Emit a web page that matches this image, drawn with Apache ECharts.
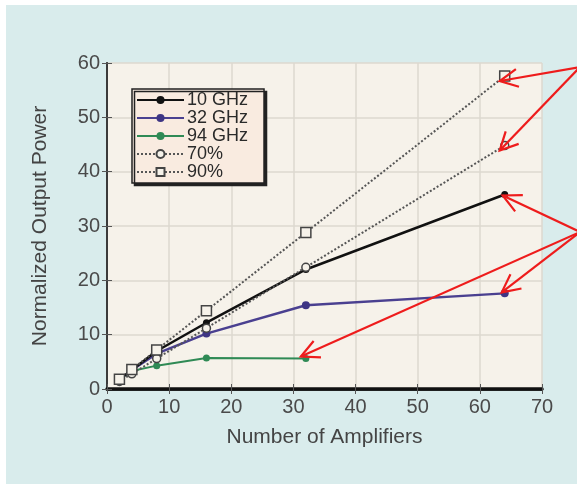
<!DOCTYPE html>
<html><head><meta charset="utf-8">
<script src="https://cdn.jsdelivr.net/npm/echarts@6/dist/echarts.min.js"></script>
<style>html,body{margin:0;padding:0;background:#fff}#c{width:577px;height:488px}</style>
</head><body><div id="c"></div>
<script>
const amps = [2, 4, 8, 16, 32, 64];
const ghz10 = [1.8, 3.5, 7.0, 12.2, 22.0, 35.8];
const ghz32 = [1.8, 3.5, 6.5, 10.2, 15.4, 17.6];
const ghz94 = [1.8, 3.3, 4.3, 5.7, 5.6];
const eff70 = [1.4, 2.8, 5.6, 11.2, 22.4, 44.8];
const eff90 = [1.8, 3.6, 7.2, 14.4, 28.8, 57.6];
const xTicks = [0, 10, 20, 30, 40, 50, 60, 70];
const yTicks = [0, 10, 20, 30, 40, 50, 60];
const names = ['10 GHz', '32 GHz', '94 GHz', '70%', '90%'];

const pairs = (ys) => ys.map((y, i) => [amps[i], y]);
const font = 'Liberation Sans, Arial, sans-serif';
const chart = echarts.init(document.getElementById('c'));
const axisCommon = {
  type: 'value', min: 0, interval: 10,
  axisTick: { inside: true, length: 5, lineStyle: { color: '#555', width: 1 } },
  splitLine: { show: false }
};
chart.setOption({
  backgroundColor: '#ffffff',
  animation: false,
  grid: { left: 107, right: 35, top: 63, bottom: 99, show: true, backgroundColor: '#f6f2ea', borderWidth: 0 },
  legend: {
    orient: 'vertical', left: 132, top: 89, data: names,
    itemWidth: 47, itemHeight: 10, itemGap: 0,
    padding: [2, 16, 2, 4],
    backgroundColor: '#f9ebe0', borderColor: '#222', borderWidth: 1.5,
    shadowColor: '#222', shadowOffsetX: 2.5, shadowOffsetY: 2.5, shadowBlur: 0,
    textStyle: { fontFamily: font, fontSize: 18, lineHeight: 17, height: 17, color: '#2a2a2a', padding: [0, 0, 0, -2] }
  },
  xAxis: [
    Object.assign({}, axisCommon, {
      position: 'bottom', max: 70,
      axisLine: { lineStyle: { color: '#222', width: 2.5 } },
      axisLabel: { fontFamily: font, fontSize: 20, color: '#4a4a4a', margin: 8, formatter: v => xTicks.includes(v) ? String(v) : '' },
      splitLine: { show: true, lineStyle: { color: '#dcd8cf', width: 1.5 } },
      name: 'Number of Amplifiers', nameLocation: 'middle', nameGap: 38,
      nameTextStyle: { fontFamily: font, fontSize: 21, color: '#444' }
    }),
    Object.assign({}, axisCommon, {
      position: 'top', max: 70,
      axisLine: { lineStyle: { color: '#111', width: 3.5 } },
      axisLabel: { show: false }
    })
  ],
  yAxis: [
    Object.assign({}, axisCommon, {
      position: 'left', max: 60,
      axisLine: { show: true, lineStyle: { color: '#222', width: 2 } },
      axisLabel: { fontFamily: font, fontSize: 20, color: '#4a4a4a', margin: 7, formatter: v => yTicks.includes(v) ? String(v) : '' },
      splitLine: { show: true, lineStyle: { color: '#dcd8cf', width: 1.5 } },
      name: 'Normalized Output Power', nameLocation: 'middle', nameGap: 56,
      nameTextStyle: { fontFamily: font, fontSize: 21, color: '#444' }
    }),
    Object.assign({}, axisCommon, {
      position: 'right', max: 60,
      axisLine: { show: true, lineStyle: { color: '#444', width: 1.5 } },
      axisLabel: { show: false }
    })
  ],
  series: [
    { name: names[0], type: 'line', data: pairs(ghz10), color: '#111', z: 5,
      lineStyle: { width: 2.5, color: '#111' }, symbol: 'circle', symbolSize: 7,
      itemStyle: { color: '#111' } },
    { name: names[1], type: 'line', data: pairs(ghz32), color: '#3e3584', z: 4,
      lineStyle: { width: 2.5, color: '#4a4090' }, symbol: 'circle', symbolSize: 8,
      itemStyle: { color: '#3e3584' } },
    { name: names[2], type: 'line', data: pairs(ghz94), color: '#2f8a55', z: 3,
      lineStyle: { width: 2, color: '#2f8a55' }, symbol: 'circle', symbolSize: 7,
      itemStyle: { color: '#2f8a55' } },
    { name: names[3], type: 'line', data: pairs(eff70), color: '#444', z: 6,
      lineStyle: { width: 2, color: '#555', type: [2, 2] }, symbol: 'circle', symbolSize: 8,
      itemStyle: { color: '#f6f2ea', borderColor: '#444', borderWidth: 1.5 } },
    { name: names[4], type: 'line', data: pairs(eff90), color: '#444', z: 6,
      lineStyle: { width: 2, color: '#555', type: [2, 2] }, symbol: 'rect', symbolSize: 10,
      itemStyle: { color: '#f6f2ea', borderColor: '#444', borderWidth: 1.5 } }
  ]
});

// red annotation arrows pointing at series ends
function arrow(tail, tip) {
  const dx = tip[0] - tail[0], dy = tip[1] - tail[1];
  const len = Math.hypot(dx, dy), ux = dx / len, uy = dy / len;
  const hl = 18, hw = 9;
  const bx = tip[0] - ux * hl, by = tip[1] - uy * hl;
  return [
    { type: 'line', z: 100, shape: { x1: tail[0], y1: tail[1], x2: tip[0], y2: tip[1] }, style: { stroke: '#ee1c1c', lineWidth: 2.2 } },
    { type: 'polyline', z: 100, shape: { points: [[bx - uy * hw, by + ux * hw], tip, [bx + uy * hw, by - ux * hw]] }, style: { stroke: '#ee1c1c', lineWidth: 2.2, fill: null } }
  ];
}
const px = (x, y) => chart.convertToPixel({ xAxisIndex: 0, yAxisIndex: 0 }, [x, y]);
const p90 = px(amps[5], eff90[5]), p70 = px(amps[5], eff70[5]);
const p10 = px(amps[5], ghz10[5]), p32 = px(amps[5], ghz32[5]), p94 = px(amps[4], ghz94[4]);
const t1 = [580, 67], t2 = [580, 232];
const g = [{ type: 'rect', z: -10, silent: true, shape: { x: 6, y: 5, width: 571, height: 479 }, style: { fill: '#d9ecec' } }]
  .concat(arrow(t1, [p90[0] - 5, p90[1] + 5]))
  .concat(arrow(t1, [p70[0] - 5, p70[1] + 5]))
  .concat(arrow(t2, [p10[0] - 2, p10[1] + 1]))
  .concat(arrow(t2, [p32[0] - 3, p32[1] - 1]))
  .concat(arrow(t2, [p94[0] - 5, p94[1] - 2]));
chart.setOption({ graphic: g });
</script></body></html>
